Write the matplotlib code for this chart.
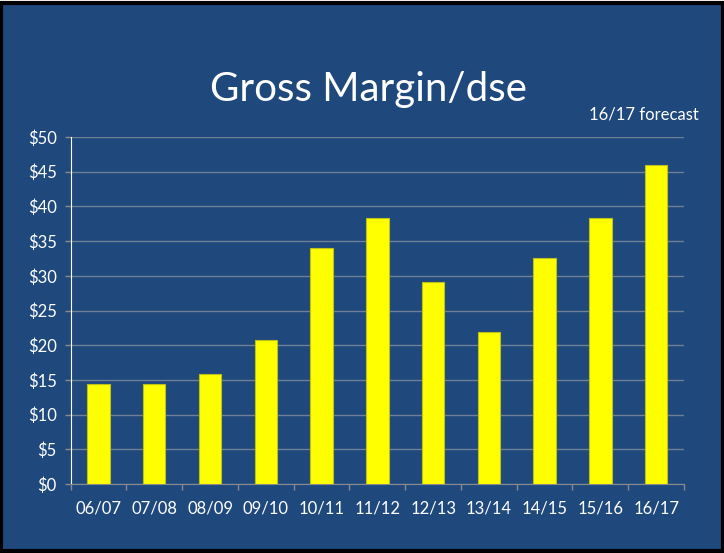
import numpy as np
import matplotlib.pyplot as plt
from matplotlib.patches import Rectangle
from matplotlib.ticker import FixedLocator

years = ['06/07', '07/08', '08/09', '09/10', '10/11', '11/12',
         '12/13', '13/14', '14/15', '15/16', '16/17']
margin = [14.4, 14.4, 15.8, 20.7, 34.0, 38.3, 29.1, 21.9, 32.6, 38.3, 45.9]
y_ticks = [0, 5, 10, 15, 20, 25, 30, 35, 40, 45, 50]

bg = '#1F497D'
plt.rcParams['font.family'] = ['Lato', 'DejaVu Sans']

fig = plt.figure(figsize=(7.24, 5.53), dpi=100)
fig.patch.set_facecolor('white')
# slide background with black frame
fig.patches.append(Rectangle((0.002, 0.004), 0.996, 0.99, transform=fig.transFigure,
                             facecolor=bg, edgecolor='black', lw=3, zorder=-10))

ax = fig.add_axes([70.7 / 724, 1 - 484 / 553, (684 - 70.7) / 724, (484 - 137) / 553])
ax.set_facecolor(bg)

x = np.arange(len(years))
ax.bar(x, margin, width=0.4, color='#FFFF00', edgecolor='#BFBF1A', lw=0.8, zorder=3)

ax.set_xlim(-0.5, len(years) - 0.5)
ax.set_ylim(0, 50)
ax.set_yticks(y_ticks)
ax.set_yticklabels(['$' + str(v) for v in y_ticks], color='white', fontsize=12)
ax.set_xticks(x)
ax.set_xticklabels(years, color='white', fontsize=12)
ax.xaxis.set_minor_locator(FixedLocator(np.arange(-0.5, len(years), 1)))
ax.tick_params(axis='x', which='major', length=0, pad=12)
ax.tick_params(axis='x', which='minor', length=4, color='#8A8A8A', width=1)
ax.tick_params(axis='y', length=4, color='#8A8A8A', width=1, pad=6)

ax.grid(axis='y', color='#6E7F96', lw=1, zorder=1)
for s in ['top', 'right']:
    ax.spines[s].set_visible(False)
ax.spines['left'].set_color('white')
ax.spines['bottom'].set_color('#8A8A8A')

fig.text(368 / 724, 1 - 90 / 553, 'Gross Margin/dse', color='white', fontsize=29,
         ha='center', va='center')
fig.text(699 / 724, 1 - 114 / 553, '16/17 forecast', color='white', fontsize=12,
         ha='right', va='center')

fig.savefig('out.png', dpi=100, facecolor=fig.get_facecolor())
